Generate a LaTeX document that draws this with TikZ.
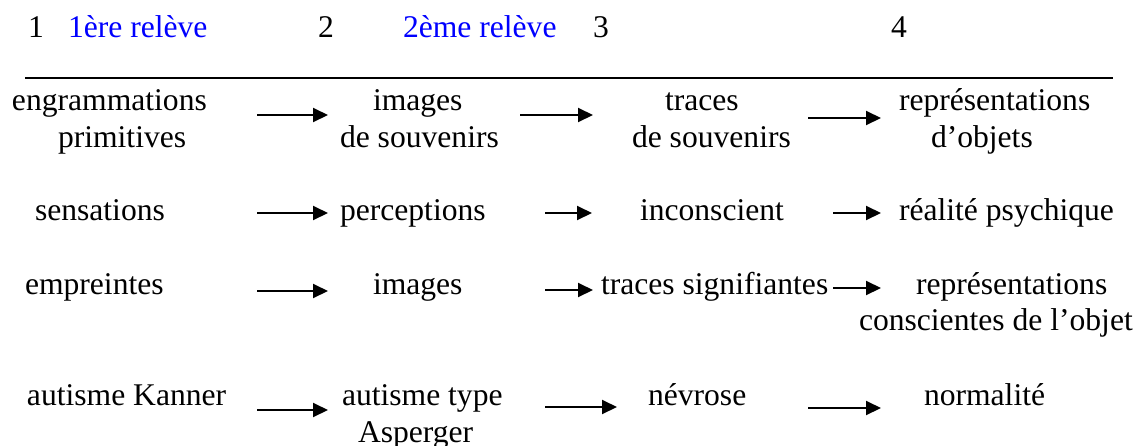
\documentclass[tikz,border=0pt]{standalone}
\usepackage{fontspec}
\setmainfont{Liberation Serif}
\usetikzlibrary{arrows.meta}
\definecolor{relblue}{RGB}{0,0,255}
\tikzset{
  txt/.style={inner sep=0pt, outer sep=0pt, anchor=base west, font=\fontsize{31.6}{36}\selectfont},
  rel/.style={txt, text=relblue},
  arr/.style={line width=2pt, -{Triangle[length=15pt,width=14pt]}},
  rule/.style={line width=1.8pt}
}
\begin{document}
\begin{tikzpicture}[x=1pt,y=-1pt]
\useasboundingbox (0,0) rectangle (1141,445);
% header
\node[txt] (h1) at (28,37) {1};
\node[rel] (r1) at (68,37) {1ère relève};
\node[txt] (h2) at (318,37) {2};
\node[rel] (r2) at (403,37) {2ème relève};
\node[txt] (h3) at (593,37) {3};
\node[txt] (h4) at (891,37) {4};
\coordinate (ruleL) at (25,78);
\coordinate (ruleR) at (1113,78);
\draw[rule] (ruleL) -- (ruleR);
% row 1
\node[txt] (a1) at (12,110) {engrammations};
\node[txt] (a1b) at (58,147) {primitives};
\node[txt] (b1) at (373,110) {images};
\node[txt] (b1b) at (340,147) {de souvenirs};
\node[txt] (c1) at (665,110) {traces};
\node[txt] (c1b) at (632,147) {de souvenirs};
\node[txt] (d1) at (899,110) {représentations};
\node[txt] (d1b) at (931,147) {d’objets};
% row 2
\node[txt] (a2) at (35,220) {sensations};
\node[txt] (b2) at (340,220) {perceptions};
\node[txt] (c2) at (640,220) {inconscient};
\node[txt] (d2) at (899,220) {réalité psychique};
% row 3
\node[txt] (a3) at (25,294) {empreintes};
\node[txt] (b3) at (373,294) {images};
\node[txt] (c3) at (601,294) {traces signifiantes};
\node[txt] (d3) at (916,294) {représentations};
\node[txt] (d3b) at (859,330) {conscientes de l’objet};
% row 4
\node[txt] (a4) at (27,405) {autisme Kanner};
\node[txt] (b4) at (342,405) {autisme type};
\node[txt] (b4b) at (358,442) {Asperger};
\node[txt] (c4) at (648,405) {névrose};
\node[txt] (d4) at (924,405) {normalité};
% arrow end points
\coordinate (p11s) at (257,115); \coordinate (p11e) at (328,115);
\coordinate (p12s) at (520,115); \coordinate (p12e) at (593,115);
\coordinate (p13s) at (808,118); \coordinate (p13e) at (881,118);
\coordinate (p21s) at (257,213); \coordinate (p21e) at (328,213);
\coordinate (p22s) at (545,213); \coordinate (p22e) at (592,213);
\coordinate (p23s) at (833,213); \coordinate (p23e) at (881,213);
\coordinate (p31s) at (257,291); \coordinate (p31e) at (328,291);
\coordinate (p32s) at (545,290); \coordinate (p32e) at (593,290);
\coordinate (p33s) at (833,288); \coordinate (p33e) at (881,288);
\coordinate (p41s) at (257,410); \coordinate (p41e) at (328,410);
\coordinate (p42s) at (545,407); \coordinate (p42e) at (617,407);
\coordinate (p43s) at (808,408); \coordinate (p43e) at (881,408);
\foreach \r in {1,2,3,4}{
  \foreach \c in {1,2,3}{
    \draw[arr] (p\r\c s) -- (p\r\c e);
  }
}
\end{tikzpicture}
\end{document}
